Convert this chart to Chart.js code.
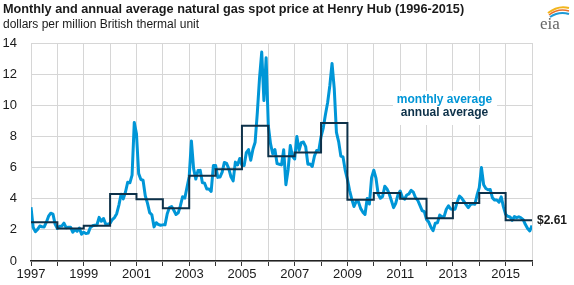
<!DOCTYPE html>
<html>
<head>
<meta charset="utf-8">
<script src="https://cdn.jsdelivr.net/npm/chart.js@4"></script>
<style>
  html, body { margin: 0; padding: 0; background: #fff; }
  #wrap { position: relative; width: 574px; height: 285px; font-family: "Liberation Sans", Arial, sans-serif; }
  #title { position: absolute; left: 3px; top: 2px; font-size: 12.7px; font-weight: bold; color: #1a1a1a; white-space: nowrap; }
  #subtitle { position: absolute; left: 3px; top: 17px; font-size: 12px; color: #1a1a1a; white-space: nowrap; }
  #logo { position: absolute; left: 536px; top: 2px; }
  canvas { position: absolute; left: 0; top: 0; }
</style>
</head>
<body>
<div id="wrap">
  <canvas id="gasChart" width="574" height="285"></canvas>
  <div id="title">Monthly and annual average natural gas spot price at Henry Hub (1996-2015)</div>
  <div id="subtitle">dollars per million British thermal unit</div>
  <svg id="logo" width="36" height="30" viewBox="0 0 36 30">
    <path d="M12 11 Q22 3 33 6" stroke="#f2b51c" stroke-width="2" fill="none"/>
    <path d="M13 13 Q22 6 33 9" stroke="#e8702a" stroke-width="1.5" fill="none"/>
    <path d="M14 15 Q23 9 33 12" stroke="#1d9ad6" stroke-width="2" fill="none"/>
    <text x="4" y="27" font-family="Liberation Serif, serif" font-size="17" fill="#666">eia</text>
  </svg>
</div>
<script>
// Henry Hub monthly spot price, Jan 1997 .. Jan 2016 ($/MMBtu)
const startYear = 1997;
const monthly = [
  3.45, 2.15, 1.89, 2.03, 2.25, 2.20, 2.19, 2.49, 2.88, 3.07, 3.01, 2.35,
  2.09, 2.23, 2.24, 2.43, 2.14, 2.17, 2.17, 1.85, 2.02, 1.91, 2.12, 1.72,
  1.85, 1.77, 1.79, 2.15, 2.26, 2.30, 2.31, 2.80, 2.55, 2.73, 2.37, 2.36,
  2.42, 2.66, 2.79, 3.04, 3.59, 4.29, 3.99, 4.43, 5.06, 5.02, 5.52, 8.90,
  8.17, 5.61, 5.23, 5.19, 4.19, 3.72, 3.11, 2.97, 2.19, 2.46, 2.34, 2.30,
  2.32, 2.32, 3.03, 3.43, 3.50, 3.26, 2.99, 3.09, 3.55, 4.13, 4.04, 4.74,
  5.43, 7.71, 5.93, 5.26, 5.81, 5.82, 5.03, 4.99, 4.62, 4.63, 4.47, 6.13,
  6.14, 5.37, 5.39, 5.71, 6.33, 6.27, 5.93, 5.41, 5.15, 6.35, 6.17, 6.58,
  6.15, 6.14, 6.96, 7.16, 6.47, 7.18, 7.63, 9.53, 11.75, 13.42, 10.30, 13.05,
  8.69, 7.54, 6.89, 7.16, 6.25, 6.21, 6.17, 7.14, 4.90, 5.85, 7.41, 6.73,
  6.55, 8.00, 7.11, 7.60, 7.64, 7.35, 6.22, 6.23, 6.07, 6.74, 7.10, 7.11,
  7.99, 8.54, 9.41, 10.18, 11.27, 12.69, 11.09, 8.26, 7.67, 6.74, 6.68, 5.82,
  5.24, 4.52, 3.96, 3.50, 3.83, 3.80, 3.38, 3.14, 2.99, 4.01, 3.66, 5.35,
  5.83, 5.32, 4.29, 4.03, 4.14, 4.80, 4.63, 4.32, 3.89, 3.43, 3.71, 4.25,
  4.49, 4.09, 3.97, 4.24, 4.31, 4.54, 4.42, 4.06, 3.90, 3.57, 3.24, 3.17,
  2.67, 2.50, 2.17, 1.95, 2.43, 2.46, 2.95, 2.84, 2.85, 3.32, 3.54, 3.34,
  3.33, 3.33, 3.81, 4.17, 4.04, 3.83, 3.62, 3.43, 3.62, 3.68, 3.64, 4.24,
  4.71, 6.00, 4.90, 4.66, 4.58, 4.59, 4.05, 3.91, 3.92, 3.78, 4.12, 3.48,
  2.99, 2.87, 2.83, 2.61, 2.85, 2.78, 2.84, 2.77, 2.66, 2.34, 2.09, 1.93,
  2.28
];
const years = [1997, 1998, 1999, 2000, 2001, 2002, 2003, 2004, 2005, 2006,
               2007, 2008, 2009, 2010, 2011, 2012, 2013, 2014, 2015];
const annual = [2.49, 2.09, 2.27, 4.31, 3.96, 3.38, 5.47, 5.89, 8.69, 6.73,
                6.97, 8.86, 3.94, 4.37, 4.00, 2.75, 3.73, 4.37, 2.61];
const yTicks = [0, 2, 4, 6, 8, 10, 12, 14];
const lastLabel = '$2.61';

const monthlyPts = monthly.map((v, i) => ({ x: startYear + i / 12, y: v }));
const annualPts = years.map((yr, i) => ({ x: yr, y: annual[i] }));
annualPts.push({ x: years[years.length - 1] + 1, y: annual[annual.length - 1] });

const blue = '#0096d7';
const navy = '#0d3149';

const labelsPlugin = {
  id: 'labels',
  afterDatasetsDraw(chart) {
    const { ctx, scales: { x, y } } = chart;
    ctx.save();
    // white box behind legend text
    ctx.fillStyle = '#fff';
    ctx.fillRect(393, 91, 104, 34);
    ctx.font = 'bold 12px "Liberation Sans", Arial, sans-serif';
    ctx.textAlign = 'center';
    ctx.textBaseline = 'middle';
    ctx.fillStyle = blue;
    ctx.fillText('monthly average', 444.5, 100);
    ctx.fillStyle = navy;
    ctx.fillText('annual average', 444.5, 113);
    // end label for last annual value
    ctx.textAlign = 'left';
    ctx.fillStyle = '#1a1a1a';
    ctx.fillText(lastLabel, x.right + 5, y.getPixelForValue(annual[annual.length - 1]));
    ctx.restore();
  }
};

new Chart(document.getElementById('gasChart'), {
  type: 'line',
  data: {
    datasets: [
      {
        label: 'annual average',
        data: annualPts,
        borderColor: navy,
        borderWidth: 2,
        stepped: true,
        pointRadius: 0,
        fill: false
      },
      {
        label: 'monthly average',
        data: monthlyPts,
        borderColor: blue,
        borderWidth: 3,
        borderJoinStyle: 'round',
        pointRadius: 0,
        tension: 0,
        fill: false
      }
    ]
  },
  options: {
    responsive: false,
    animation: false,
    events: [],
    layout: { padding: { left: 0, right: 42, top: 43, bottom: 0 } },
    plugins: { legend: { display: false }, tooltip: { enabled: false } },
    scales: {
      x: {
        type: 'linear',
        min: 1997,
        max: 2016,
        afterBuildTicks: s => { s.ticks = years.concat([2016]).map(v => ({ value: v })); },
        afterFit: s => { s.height = 24; },
        grid: { color: '#d6d6d6', lineWidth: 1, tickColor: '#333', tickLength: 5 },
        border: { color: '#222', width: 1.5 },
        ticks: {
          autoSkip: false,
          maxRotation: 0,
          padding: 1,
          color: '#1a1a1a',
          font: { family: '"Liberation Sans", Arial, sans-serif', size: 13 },
          callback: v => (v % 2 === 1 ? String(v) : '')
        }
      },
      y: {
        min: 0,
        max: 14,
        afterBuildTicks: s => { s.ticks = yTicks.map(v => ({ value: v })); },
        afterFit: s => { s.width = 31; },
        grid: { color: '#d6d6d6', lineWidth: 1, drawTicks: false },
        border: { display: false },
        ticks: {
          padding: 14,
          color: '#1a1a1a',
          font: { family: '"Liberation Sans", Arial, sans-serif', size: 13 }
        }
      }
    }
  },
  plugins: [labelsPlugin]
});
</script>
</body>
</html>
